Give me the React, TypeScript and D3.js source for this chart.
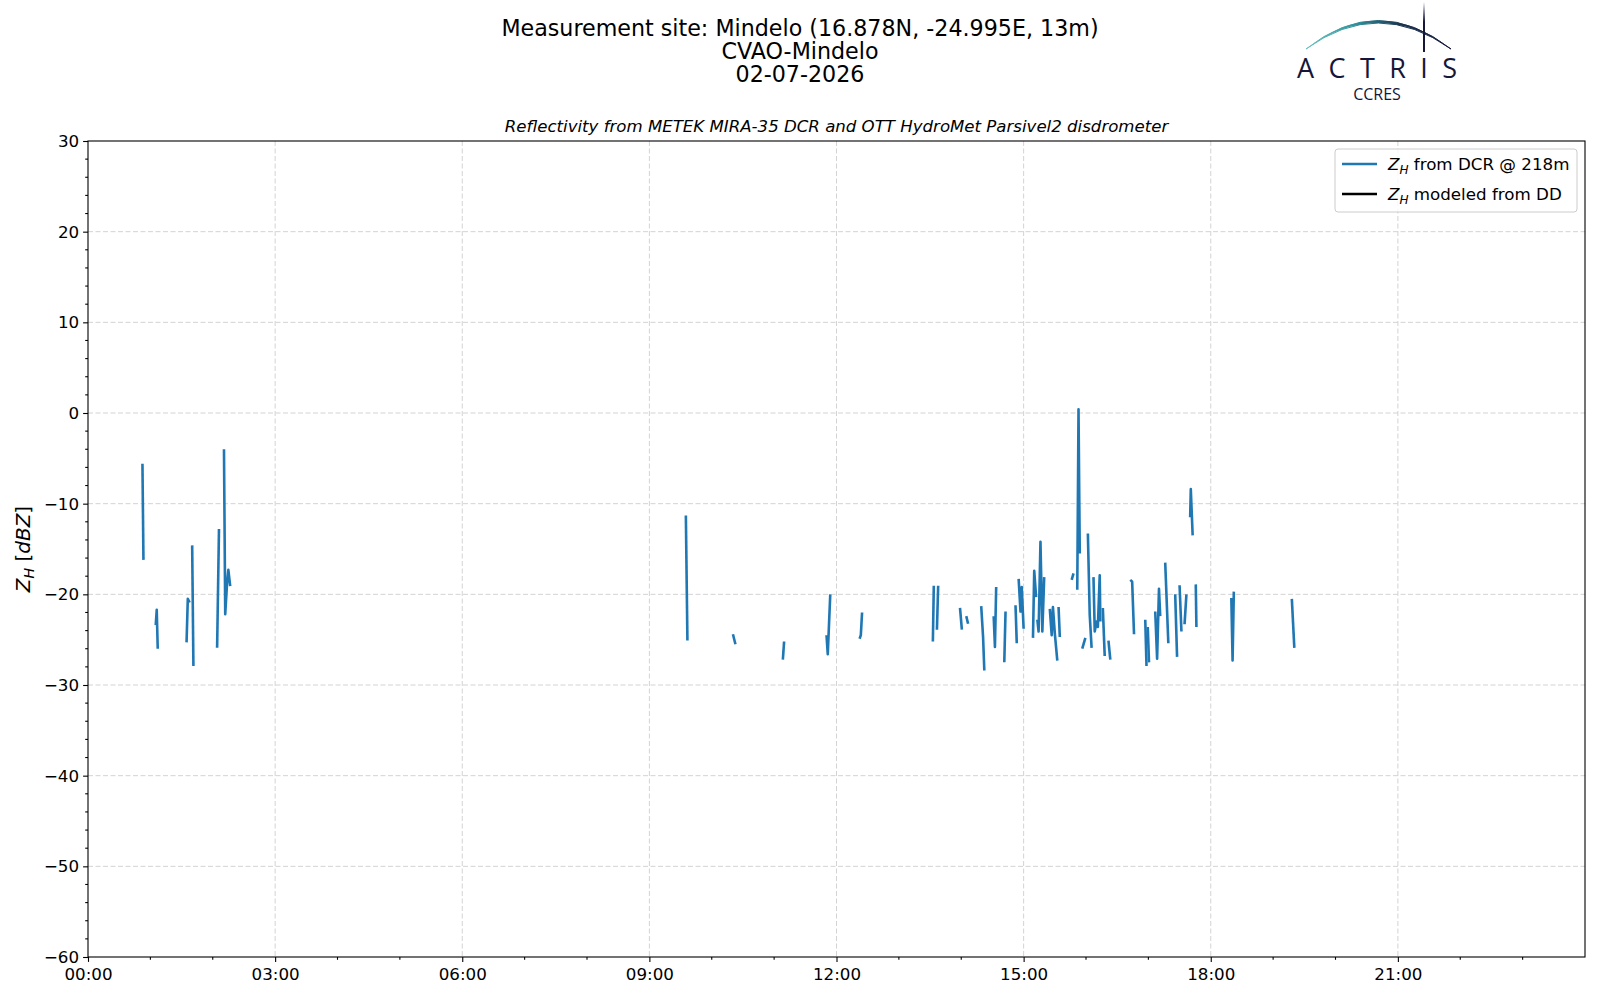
import { useEffect, useRef } from 'react'
import * as d3 from 'd3'

// segments of Z_H from the cloud radar (hour of day, dBZ); gaps between them are missing data
const dcrSegments: [number, number][][] = [
  [[0.873, -5.6], [0.889, -16.2]],
  [[1.086, -23.4], [1.102, -21.7], [1.118, -26.0]],
  [[1.58, -25.3], [1.6, -20.5], [1.63, -20.9]],
  [[1.67, -14.6], [1.69, -27.9]],
  [[2.07, -25.9], [2.1, -12.8]],
  [[2.18, -4.0], [2.2, -22.2], [2.23, -18.7], [2.25, -17.3], [2.28, -19.1]],
  [[9.585, -11.3], [9.61, -25.1]],
  [[10.34, -24.4], [10.38, -25.5]],
  [[11.14, -27.2], [11.16, -25.2]],
  [[11.84, -24.5], [11.86, -26.6], [11.9, -20.0]],
  [[12.37, -24.9], [12.39, -24.5], [12.41, -22.0]],
  [[13.545, -25.2], [13.56, -19.05]],
  [[13.61, -23.9], [13.63, -19.05]],
  [[13.98, -21.5], [14.01, -23.9]],
  [[14.08, -22.4], [14.11, -23.25]],
  [[14.32, -21.3], [14.35, -24.7], [14.37, -28.4]],
  [[14.52, -22.4], [14.54, -25.8], [14.56, -19.2]],
  [[14.69, -27.5], [14.71, -21.9]],
  [[14.87, -21.2], [14.89, -25.4]],
  [[14.92, -18.3], [14.95, -21.9], [14.97, -19.2], [15.0, -23.8]],
  [[15.15, -24.8], [15.17, -17.4], [15.2, -20.3]],
  [[15.22, -22.8], [15.24, -24.1], [15.27, -14.2], [15.3, -24.1], [15.33, -18.1]],
  [[15.42, -21.6], [15.45, -24.5], [15.47, -21.4], [15.5, -24.3], [15.54, -27.3]],
  [[15.56, -21.4], [15.58, -24.7]],
  [[15.77, -18.4], [15.8, -17.7]],
  [[15.86, -19.5], [15.88, 0.4], [15.9, -15.5]],
  [[15.94, -26.0], [15.99, -24.8]],
  [[16.03, -13.3], [16.06, -22.3], [16.09, -25.9]],
  [[16.12, -18.1], [16.14, -24.1], [16.17, -23.0], [16.19, -23.6], [16.22, -17.9], [16.23, -23.0]],
  [[16.27, -21.5], [16.3, -26.8]],
  [[16.36, -25.1], [16.39, -27.2]],
  [[16.71, -18.4], [16.74, -18.6], [16.77, -24.4]],
  [[16.95, -22.8], [16.97, -27.9]],
  [[16.99, -23.6], [17.01, -27.5]],
  [[17.11, -21.9], [17.14, -27.1], [17.17, -19.4], [17.19, -22.4]],
  [[17.27, -16.5], [17.32, -25.4]],
  [[17.43, -20.0], [17.46, -26.9]],
  [[17.5, -19.0], [17.53, -24.1]],
  [[17.58, -23.3], [17.61, -20.0]],
  [[17.67, -11.5], [17.68, -8.4], [17.71, -13.5]],
  [[17.76, -18.9], [17.77, -23.6]],
  [[18.33, -20.4], [18.35, -27.3], [18.37, -19.7]],
  [[19.3, -20.5], [19.34, -25.9]],
]

// modeled Z_H from the disdrometer: no data on this day
const ddSegments: [number, number][][] = []

const xTickHours = [0, 3, 6, 9, 12, 15, 18, 21]
const xTickLabels = ['00:00', '03:00', '06:00', '09:00', '12:00', '15:00', '18:00', '21:00']
const yTicks = [30, 20, 10, 0, -10, -20, -30, -40, -50, -60]

const titleLines = [
  'Measurement site: Mindelo (16.878N, -24.995E, 13m)',
  'CVAO-Mindelo',
  '02-07-2026',
]
const subtitle = 'Reflectivity from METEK MIRA-35 DCR and OTT HydroMet Parsivel2 disdrometer'

const FONT = '"DejaVu Sans", sans-serif'
const BLUE = '#1f77b4'

export default function App() {
  const svgRef = useRef<SVGSVGElement>(null)

  useEffect(() => {
    if (!svgRef.current) return
    const svg = d3.select(svgRef.current)
    svg.selectAll('*').remove()

    const margin = { top: 141, right: 15, bottom: 43, left: 88 }
    const W = 1600
    const H = 1000
    const width = W - margin.left - margin.right
    const height = H - margin.top - margin.bottom

    svg.attr('width', W).attr('height', H)
    svg.append('rect').attr('width', W).attr('height', H).attr('fill', 'white')

    const x = d3.scaleLinear().domain([0, 24]).range([0, width])
    const y = d3.scaleLinear().domain([-60, 30]).range([height, 0])

    const g = svg.append('g').attr('transform', `translate(${margin.left},${margin.top})`)

    // grid
    const grid = g.append('g').attr('stroke', '#d3d3d3').attr('stroke-width', 1).attr('stroke-dasharray', '5,2.5')
    xTickHours.slice(1).forEach((h) => {
      grid.append('line').attr('x1', x(h)).attr('x2', x(h)).attr('y1', 0).attr('y2', height)
    })
    yTicks.slice(1, -1).forEach((v) => {
      grid.append('line').attr('x1', 0).attr('x2', width).attr('y1', y(v)).attr('y2', y(v))
    })

    // data
    const line = d3.line<[number, number]>()
      .x((d) => x(d[0]))
      .y((d) => y(d[1]))

    g.append('g').selectAll('path')
      .data(dcrSegments)
      .enter().append('path')
      .attr('d', line)
      .attr('fill', 'none').attr('stroke', BLUE).attr('stroke-width', 2.6)
      .attr('stroke-linejoin', 'round').attr('stroke-linecap', 'butt')

    g.append('g').selectAll('path')
      .data(ddSegments)
      .enter().append('path')
      .attr('d', line)
      .attr('fill', 'none').attr('stroke', 'black').attr('stroke-width', 2.6)

    // axes
    const xAxis = g.append('g')
      .attr('transform', `translate(0,${height})`)
      .call(d3.axisBottom(x).tickValues(xTickHours).tickSize(4.9).tickPadding(6)
        .tickFormat((_, i) => xTickLabels[i]).tickSizeOuter(0))
    xAxis.append('g').selectAll('line')
      .data(d3.range(0, 24).filter((h) => h % 3 !== 0))
      .enter().append('line')
      .attr('x1', (d) => x(d)).attr('x2', (d) => x(d)).attr('y1', 0).attr('y2', 2.8)
      .attr('stroke', 'black').attr('stroke-width', 1.1)

    const yAxis = g.append('g')
      .call(d3.axisLeft(y).tickValues(yTicks).tickSize(4.9).tickPadding(4)
        .tickFormat((d) => String(d).replace('-', '\u2212')).tickSizeOuter(0))
    yAxis.append('g').selectAll('line')
      .data(d3.range(-60, 31, 2).filter((v) => v % 10 !== 0))
      .enter().append('line')
      .attr('x1', 0).attr('x2', -2.8).attr('y1', (d) => y(d)).attr('y2', (d) => y(d))
      .attr('stroke', 'black').attr('stroke-width', 1.1)

    ;[xAxis, yAxis].forEach((a) => {
      a.select('.domain').remove()
      a.selectAll('.tick line').attr('stroke', 'black').attr('stroke-width', 1.1)
      a.selectAll('.tick text').attr('font-family', FONT).attr('font-size', '16.7px').attr('fill', 'black')
    })

    g.append('rect')
      .attr('width', width).attr('height', height)
      .attr('fill', 'none').attr('stroke', 'black').attr('stroke-width', 1.1)

    // y label
    const yl = svg.append('text')
      .attr('transform', `translate(30,${margin.top + height / 2}) rotate(-90)`)
      .attr('text-anchor', 'middle')
      .attr('font-family', FONT).attr('font-size', '20px').attr('fill', 'black')
    yl.append('tspan').attr('font-style', 'italic').text('Z')
    yl.append('tspan').attr('font-style', 'italic').attr('font-size', '14px').attr('dy', 4).text('H')
    yl.append('tspan').attr('dy', -4).text(' [')
    yl.append('tspan').attr('font-style', 'italic').text('dBZ')
    yl.append('tspan').text(']')

    // titles
    titleLines.forEach((t, i) => {
      svg.append('text')
        .attr('x', 800).attr('y', 36 + i * 23)
        .attr('text-anchor', 'middle')
        .attr('font-family', FONT).attr('font-size', '22.2px').attr('fill', 'black')
        .text(t)
    })
    svg.append('text')
      .attr('x', margin.left + width / 2).attr('y', 132)
      .attr('text-anchor', 'middle')
      .attr('font-family', FONT).attr('font-size', '16.6px').attr('font-style', 'italic').attr('fill', 'black')
      .text(subtitle)

    // legend
    const legend = svg.append('g').attr('transform', 'translate(1335,149)')
    legend.append('rect')
      .attr('width', 242).attr('height', 63).attr('rx', 3)
      .attr('fill', 'white').attr('fill-opacity', 0.8).attr('stroke', '#cccccc')
    const entries = [
      { color: BLUE, text: ' from DCR @ 218m' },
      { color: 'black', text: ' modeled from DD' },
    ]
    entries.forEach((e, i) => {
      const yy = 15 + i * 30
      legend.append('line')
        .attr('x1', 7).attr('x2', 42).attr('y1', yy).attr('y2', yy)
        .attr('stroke', e.color).attr('stroke-width', 2.6)
      const t = legend.append('text')
        .attr('x', 53).attr('y', yy + 6)
        .attr('font-family', FONT).attr('font-size', '16.7px').attr('fill', 'black')
      t.append('tspan').attr('font-style', 'italic').text('Z')
      t.append('tspan').attr('font-style', 'italic').attr('font-size', '12px').attr('dy', 4).text('H')
      t.append('tspan').attr('dy', -4).text(e.text)
    })

    // ACTRIS logo
    const defs = svg.append('defs')
    const grad = defs.append('linearGradient').attr('id', 'arcGrad')
      .attr('x1', '0%').attr('x2', '100%').attr('y1', '0%').attr('y2', '0%')
    grad.append('stop').attr('offset', '0%').attr('stop-color', '#6cc3c0')
    grad.append('stop').attr('offset', '35%').attr('stop-color', '#2f8f9a')
    grad.append('stop').attr('offset', '65%').attr('stop-color', '#1b3550')
    grad.append('stop').attr('offset', '100%').attr('stop-color', '#14163a')
    const vgrad = defs.append('linearGradient').attr('id', 'vGrad')
      .attr('x1', '0%').attr('x2', '0%').attr('y1', '0%').attr('y2', '100%')
    vgrad.append('stop').attr('offset', '0%').attr('stop-color', '#14163a').attr('stop-opacity', 0)
    vgrad.append('stop').attr('offset', '40%').attr('stop-color', '#14163a').attr('stop-opacity', 1)

    const logo = svg.append('g')
    logo.append('path')
      .attr('d', 'M1306,49 Q1378,-8 1451,49 Q1378,-3 1306,49 Z')
      .attr('fill', 'url(#arcGrad)').attr('stroke', 'url(#arcGrad)').attr('stroke-width', 1)
    logo.append('rect')
      .attr('x', 1423).attr('y', 2).attr('width', 2).attr('height', 50)
      .attr('fill', 'url(#vGrad)')
    logo.append('text')
      .attr('x', 1297).attr('y', 78)
      .attr('textLength', 160).attr('lengthAdjust', 'spacing')
      .attr('font-family', '"Open Sans", sans-serif').attr('font-size', '27px').attr('fill', '#14163a')
      .text('ACTRIS')
    logo.append('text')
      .attr('x', 1377).attr('y', 100)
      .attr('text-anchor', 'middle')
      .attr('font-family', '"Open Sans", sans-serif').attr('font-size', '16px').attr('fill', '#14163a')
      .text('CCRES')
  }, [])

  return <svg ref={svgRef} style={{ position: 'absolute', left: 0, top: 0 }}></svg>
}
